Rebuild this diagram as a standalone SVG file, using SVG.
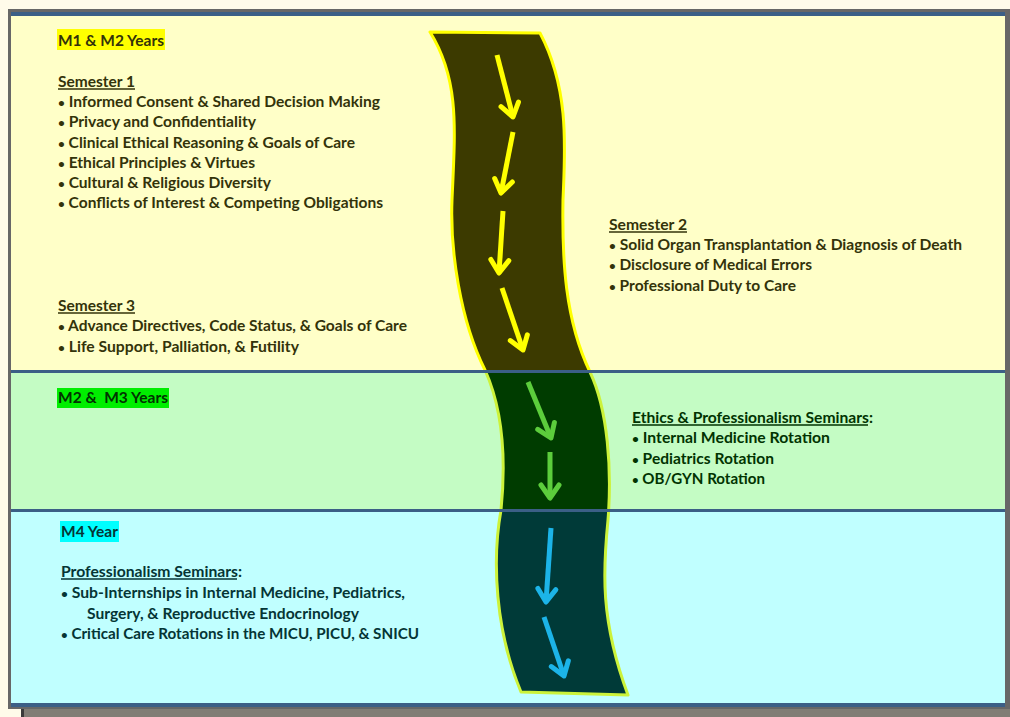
<svg xmlns="http://www.w3.org/2000/svg" width="1010" height="717" viewBox="0 0 1010 717">
<style>
.t{font-family:Lato,"Liberation Sans",sans-serif;font-weight:bold;font-size:14.5px}
.b{font-size:11px}
.ty{fill:#33330a}
.tg{fill:#013301}
.tc{fill:#053535}
.ul{stroke-width:1.4}
.sep{fill:#3b5f86}
.arr{fill:none;stroke-width:5;stroke-linecap:butt}
</style>
<defs>
<linearGradient id="roadFill" gradientUnits="userSpaceOnUse" x1="0" y1="0" x2="0" y2="717">
<stop offset="0.517" stop-color="#3c3a00"/><stop offset="0.517" stop-color="#003c00"/>
<stop offset="0.712" stop-color="#003c00"/><stop offset="0.712" stop-color="#003a38"/>
</linearGradient>
<linearGradient id="roadStroke" gradientUnits="userSpaceOnUse" x1="0" y1="0" x2="0" y2="717">
<stop offset="0.517" stop-color="#ffff00"/><stop offset="0.517" stop-color="#ccf23a"/>
</linearGradient>
<marker id="my" markerUnits="userSpaceOnUse" markerWidth="40" markerHeight="40" viewBox="-20 -20 40 40" refX="0" refY="0" orient="auto" overflow="visible">
<path d="M-13,-9 L0,0 L-13,9" fill="none" stroke="#ffff00" stroke-width="5" stroke-linecap="round" stroke-linejoin="round"/>
</marker>
<marker id="mg" markerUnits="userSpaceOnUse" markerWidth="40" markerHeight="40" viewBox="-20 -20 40 40" refX="0" refY="0" orient="auto" overflow="visible">
<path d="M-13,-9 L0,0 L-13,9" fill="none" stroke="#5ccd3c" stroke-width="5" stroke-linecap="round" stroke-linejoin="round"/>
</marker>
<marker id="mc" markerUnits="userSpaceOnUse" markerWidth="40" markerHeight="40" viewBox="-20 -20 40 40" refX="0" refY="0" orient="auto" overflow="visible">
<path d="M-13,-9 L0,0 L-13,9" fill="none" stroke="#1cb4e8" stroke-width="5" stroke-linecap="round" stroke-linejoin="round"/>
</marker>
</defs>

<!-- background, shadow and frame -->
<rect x="0" y="0" width="1010" height="717" fill="#fffbea"/>
<rect x="21" y="709" width="989" height="8" fill="#817d75"/>
<rect x="21" y="709" width="3" height="8" fill="#3a3a3a"/>
<rect x="8" y="9" width="1002" height="700" fill="#676767"/>
<rect x="11" y="12" width="994" height="695" fill="#3b5f86"/>
<rect x="11" y="16" width="994" height="354" fill="#ffffc8"/>
<rect x="11" y="373" width="994" height="136" fill="#c4fcc4"/>
<rect x="11" y="512" width="994" height="191" fill="#c0ffff"/>

<!-- road -->
<g id="road">
<path d="M430,32 L540,33 C570,90 565,150 563,200 C562,260 565,320 590,372 C608,410 612,470 608,520 C603,570 600,620 628,695 L521,692 C495,630 492,560 501,510 C506,460 503,410 485,370 C460,320 450,250 452,200 C455,130 460,80 430,32 Z" fill="url(#roadFill)" stroke="url(#roadStroke)" stroke-width="3" stroke-linejoin="round"/>
</g>

<!-- separators over road -->
<rect class="sep" x="11" y="370" width="994" height="3"/>
<rect class="sep" x="11" y="509" width="994" height="3"/>

<!-- connectors (arrows along road) -->
<g id="connectors">
<line class="arr" x1="497" y1="55" x2="513" y2="117" stroke="#ffff00" marker-end="url(#my)"/>
<line class="arr" x1="513" y1="132" x2="501" y2="193" stroke="#ffff00" marker-end="url(#my)"/>
<line class="arr" x1="503" y1="211" x2="499" y2="273" stroke="#ffff00" marker-end="url(#my)"/>
<line class="arr" x1="502" y1="288" x2="523" y2="350" stroke="#ffff00" marker-end="url(#my)"/>
<line class="arr" x1="528" y1="382" x2="551" y2="438" stroke="#5ccd3c" marker-end="url(#mg)"/>
<line class="arr" x1="550" y1="452" x2="550" y2="498" stroke="#5ccd3c" marker-end="url(#mg)"/>
<line class="arr" x1="551" y1="528" x2="546" y2="602" stroke="#1cb4e8" marker-end="url(#mc)"/>
<line class="arr" x1="544" y1="617" x2="564" y2="676" stroke="#1cb4e8" marker-end="url(#mc)"/>
</g>

<!-- M1 & M2 years -->
<g id="m1m2">
<rect x="57" y="29" width="108" height="21" fill="#ffff00"/>
<text class="t ty" x="58" y="46" textLength="106" lengthAdjust="spacingAndGlyphs">M1 &amp; M2 Years</text>
</g>

<g id="semester1">
<text class="t ty" x="58" y="87" textLength="77" lengthAdjust="spacingAndGlyphs">Semester 1</text>
<line class="ul" x1="58" y1="89" x2="135" y2="89" stroke="#33330a"/>
<text class="t ty" x="58" y="107" textLength="322" lengthAdjust="spacingAndGlyphs"><tspan class="b">•</tspan> Informed Consent &amp; Shared Decision Making</text>
<text class="t ty" x="58" y="127" textLength="198" lengthAdjust="spacingAndGlyphs"><tspan class="b">•</tspan> Privacy and Confidentiality</text>
<text class="t ty" x="58" y="148" textLength="297" lengthAdjust="spacingAndGlyphs"><tspan class="b">•</tspan> Clinical Ethical Reasoning &amp; Goals of Care</text>
<text class="t ty" x="58" y="168" textLength="197" lengthAdjust="spacingAndGlyphs"><tspan class="b">•</tspan> Ethical Principles &amp; Virtues</text>
<text class="t ty" x="58" y="188" textLength="213" lengthAdjust="spacingAndGlyphs"><tspan class="b">•</tspan> Cultural &amp; Religious Diversity</text>
<text class="t ty" x="58" y="208" textLength="325" lengthAdjust="spacingAndGlyphs"><tspan class="b">•</tspan> Conflicts of Interest &amp; Competing Obligations</text>
</g>

<g id="semester2">
<text class="t ty" x="609" y="230" textLength="78" lengthAdjust="spacingAndGlyphs">Semester 2</text>
<line class="ul" x1="609" y1="232" x2="687" y2="232" stroke="#33330a"/>
<text class="t ty" x="609" y="250" textLength="353" lengthAdjust="spacingAndGlyphs"><tspan class="b">•</tspan> Solid Organ Transplantation &amp; Diagnosis of Death</text>
<text class="t ty" x="609" y="270" textLength="203" lengthAdjust="spacingAndGlyphs"><tspan class="b">•</tspan> Disclosure of Medical Errors</text>
<text class="t ty" x="609" y="291" textLength="187" lengthAdjust="spacingAndGlyphs"><tspan class="b">•</tspan> Professional Duty to Care</text>
</g>

<g id="semester3">
<text class="t ty" x="58" y="311" textLength="77" lengthAdjust="spacingAndGlyphs">Semester 3</text>
<line class="ul" x1="58" y1="313" x2="135" y2="313" stroke="#33330a"/>
<text class="t ty" x="58" y="331" textLength="349" lengthAdjust="spacingAndGlyphs"><tspan class="b">•</tspan> Advance Directives, Code Status, &amp; Goals of Care</text>
<text class="t ty" x="58" y="352" textLength="241" lengthAdjust="spacingAndGlyphs"><tspan class="b">•</tspan> Life Support, Palliation, &amp; Futility</text>
</g>

<!-- M2 & M3 years -->
<g id="m2m3">
<rect x="57" y="388" width="112" height="20" fill="#00ee00"/>
<text class="t tg" x="58" y="403" textLength="110" lengthAdjust="spacingAndGlyphs" xml:space="preserve">M2 &amp;  M3 Years</text>
</g>

<g id="ethics">
<text class="t tg" x="632" y="423" textLength="241" lengthAdjust="spacingAndGlyphs">Ethics &amp; Professionalism Seminars:</text>
<line class="ul" x1="632" y1="425" x2="868" y2="425" stroke="#013301"/>
<text class="t tg" x="632" y="443" textLength="198" lengthAdjust="spacingAndGlyphs"><tspan class="b">•</tspan> Internal Medicine Rotation</text>
<text class="t tg" x="632" y="464" textLength="142" lengthAdjust="spacingAndGlyphs"><tspan class="b">•</tspan> Pediatrics Rotation</text>
<text class="t tg" x="632" y="484" textLength="133" lengthAdjust="spacingAndGlyphs"><tspan class="b">•</tspan> OB/GYN Rotation</text>
</g>

<!-- M4 year -->
<g id="m4">
<rect x="60" y="521" width="59" height="21" fill="#00ffff"/>
<text class="t tc" x="61" y="537" textLength="57" lengthAdjust="spacingAndGlyphs">M4 Year</text>
</g>

<g id="professionalism">
<text class="t tc" x="61" y="577" textLength="181" lengthAdjust="spacingAndGlyphs">Professionalism Seminars:</text>
<line class="ul" x1="61" y1="579" x2="237" y2="579" stroke="#053535"/>
<text class="t tc" x="61" y="598" textLength="344" lengthAdjust="spacingAndGlyphs"><tspan class="b">•</tspan> Sub-Internships in Internal Medicine, Pediatrics,</text>
<text class="t tc" x="87" y="619" textLength="272" lengthAdjust="spacingAndGlyphs">Surgery, &amp; Reproductive Endocrinology</text>
<text class="t tc" x="61" y="639" textLength="358" lengthAdjust="spacingAndGlyphs"><tspan class="b">•</tspan> Critical Care Rotations in the MICU, PICU, &amp; SNICU</text>
</g>
</svg>
